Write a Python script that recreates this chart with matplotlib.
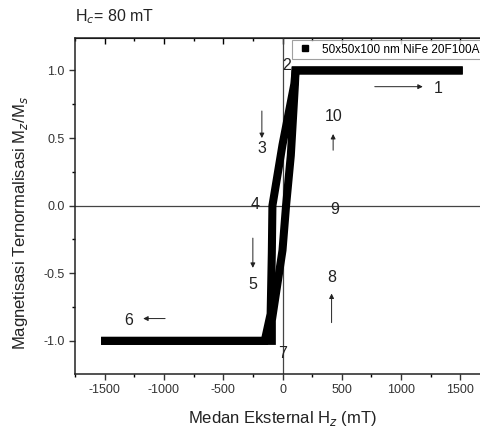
import matplotlib
matplotlib.use("Agg")
import matplotlib.pyplot as plt
from matplotlib.lines import Line2D
from matplotlib.ticker import MultipleLocator, FormatStrFormatter

plt.rcParams['font.family'] = ['Liberation Sans', 'DejaVu Sans']

# Hysteresis loop (field in mT, normalized magnetization)
H_desc = [1520, 110, 100, 0, -85, -90, -100, -150, -1530]
M_desc = [1.0, 1.0, 0.9, 0.45, 0.0, -0.35, -0.8, -1.0, -1.0]
H_asc = [-1530, -90, -90, 0, 30, 70, 105, 110, 1520]
M_asc = [-1.0, -1.0, -0.85, -0.33, 0.0, 0.37, 0.9, 1.0, 1.0]

series_label = "50x50x100 nm NiFe 20F100A"
title_text = "= 80 mT"

# Step labels: (text, x, y)
step_labels = ["1", "2", "3", "4", "5", "6", "7", "8", "9", "10"]
step_x = [1310, 35, -174, -233, -250, -1296, 0, 414, 440, 435]
step_y = [0.87, 1.04, 0.42, 0.01, -0.58, -0.85, -1.09, -0.53, -0.03, 0.66]

# Arrows: (x_start, y_start, x_end, y_end)
arr_x0 = [778, -174, -250, -990, 414, 427]
arr_y0 = [0.88, 0.70, -0.24, -0.835, -0.865, 0.41]
arr_x1 = [1183, -174, -250, -1175, 414, 427]
arr_y1 = [0.88, 0.50, -0.46, -0.835, -0.65, 0.53]

fig = plt.figure(figsize=(4.8, 4.3), dpi=100)
ax = fig.add_axes([75/480, 56/430, 415/480, 336/430])
ax.set_xlim(-1750, 1750)
ax.set_ylim(-1.245, 1.24)

ax.axhline(0, color='#444444', lw=0.9, zorder=1)
ax.axvline(0, color='#444444', lw=0.9, zorder=1)

ax.plot(H_desc, M_desc, color='black', lw=5.8, solid_joinstyle='miter',
        solid_capstyle='butt', zorder=3)
ax.plot(H_asc, M_asc, color='black', lw=5.8, solid_joinstyle='miter',
        solid_capstyle='butt', zorder=3)

for t, x, y in zip(step_labels, step_x, step_y):
    ax.text(x, y, t, fontsize=11.5, ha='center', va='center', color='#222222', zorder=4)

for x0, y0, x1, y1 in zip(arr_x0, arr_y0, arr_x1, arr_y1):
    ax.annotate("", xy=(x1, y1), xytext=(x0, y0),
                arrowprops=dict(arrowstyle='-|>', lw=0.7, color='#222222',
                                mutation_scale=7, shrinkA=0, shrinkB=0))

ax.xaxis.set_major_locator(MultipleLocator(500))
ax.xaxis.set_minor_locator(MultipleLocator(250))
ax.yaxis.set_major_locator(MultipleLocator(0.5))
ax.yaxis.set_minor_locator(MultipleLocator(0.25))
ax.tick_params(axis='both', which='major', direction='out', length=4, width=1,
               labelsize=9, colors='#333333')
ax.tick_params(axis='both', which='minor', direction='out', length=2.5, width=1)
ax.yaxis.set_major_formatter(FormatStrFormatter('%.1f'))
ax.xaxis.set_major_formatter(FormatStrFormatter('%d'))

# mirrored top ticks pointing inward
top = ax.secondary_xaxis('top')
top.xaxis.set_major_locator(MultipleLocator(500))
top.xaxis.set_minor_locator(MultipleLocator(250))
top.tick_params(axis='x', which='major', direction='in', length=4, width=1, labeltop=False)
top.tick_params(axis='x', which='minor', direction='in', length=2.5, width=1)

for sp in ax.spines.values():
    sp.set_linewidth(1.1)
    sp.set_color('#222222')

ax.set_xlabel(r"Medan Eksternal H$_z$ (mT)", fontsize=12, color='#222222')
ax.xaxis.set_label_coords((282 - 75) / 415, -(418 - 374) / 336)
ax.set_ylabel(r"Magnetisasi Ternormalisasi M$_z$/M$_s$", fontsize=12, color='#222222')
ax.yaxis.set_label_coords((21 - 75) / 415, (374 - 223) / 336)
ax.xaxis.label.set_va('center')
ax.yaxis.label.set_va('center')

fig.text(75/480, 1 - 17/430, r"H$_c$" + title_text, fontsize=11.5, ha='left', va='center',
         color='#222222')

proxy = Line2D([], [], marker='s', color='black', linestyle='none', markersize=5)
leg = ax.legend([proxy], [series_label], loc='upper left',
                bbox_to_anchor=((292-75)/415, (374-40)/336), borderaxespad=0,
                fontsize=8.5, frameon=True, fancybox=False, handletextpad=0.6,
                borderpad=0.3, handlelength=1.6)
leg.get_frame().set_edgecolor('#888888')
leg.get_frame().set_linewidth(0.8)

fig.savefig("out.png", dpi=100)
